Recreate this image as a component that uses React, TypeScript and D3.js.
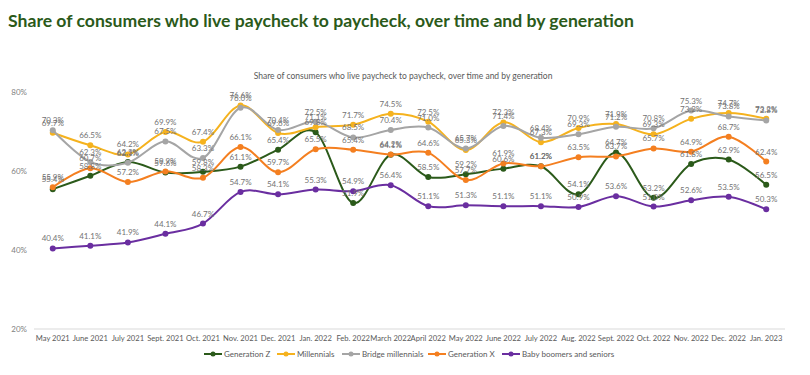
import React from "react";
import * as d3 from "d3";

const categories = [
  "May 2021", "June 2021", "July 2021", "Sept. 2021", "Oct. 2021", "Nov. 2021", "Dec. 2021",
  "Jan. 2022", "Feb. 2022", "March 2022", "April 2022", "May 2022", "June 2022", "July 2022",
  "Aug. 2022", "Sept. 2022", "Oct. 2022", "Nov. 2022", "Dec. 2022", "Jan. 2023",
];

const genZ = [55.4, 58.8, 62.3, 59.6, 59.8, 61.1, 65.4, 69.8, 51.9, 64.1, 58.5, 59.2, 60.6, 61.2, 54.1, 64.7, 53.2, 61.8, 62.9, 56.5];
const millennials = [69.7, 66.5, 64.2, 69.9, 67.4, 76.6, 69.6, 71.1, 71.7, 74.5, 72.5, 65.3, 72.3, 67.3, 70.9, 71.9, 69.3, 73.2, 74.7, 73.2];
const bridgeMillennials = [70.3, 62.3, 62.1, 67.5, 63.3, 76.0, 70.4, 72.5, 68.5, 70.4, 71.0, 65.7, 71.4, 68.4, 69.3, 71.2, 70.8, 75.3, 73.8, 72.8];
const genX = [55.9, 60.7, 57.2, 59.9, 58.3, 66.1, 59.7, 65.5, 65.4, 64.2, 64.6, 57.7, 61.9, 61.2, 63.5, 63.7, 65.7, 64.9, 68.7, 62.4];
const boomers = [40.4, 41.1, 41.9, 44.1, 46.7, 54.7, 54.1, 55.3, 54.9, 56.4, 51.1, 51.3, 51.1, 51.1, 50.9, 53.6, 51.0, 52.6, 53.5, 50.3];

const yTicks = [20, 40, 60, 80];

const seriesNames = ["Generation Z", "Millennials", "Bridge millennials", "Generation X", "Baby boomers and seniors"];
const seriesValues = [genZ, millennials, bridgeMillennials, genX, boomers];
const seriesColors = ["#2b5a1a", "#f5b21e", "#a5a5a5", "#f47f20", "#6a2ea0"];

const title = "Share of consumers who live paycheck to paycheck, over time and by generation";
const subtitle = "Share of consumers who live paycheck to paycheck, over time and by generation";

const FONT = "Lato, 'Open Sans', sans-serif";

export default function App() {
  const width = 810;
  const height = 375;
  const x = d3.scalePoint<string>().domain(categories).range([34, 785]).padding(0.5);
  const y = d3.scaleLinear().domain([20, 80]).range([329, 92]);
  const line = d3
    .line<number>()
    .x((_, i) => x(categories[i]) as number)
    .y((d) => y(d))
    .curve(d3.curveCardinal.tension(0));

  const legendX = [204, 277, 342, 428, 502];

  return (
    <svg
      width={width}
      height={height}
      style={{ position: "absolute", left: 0, top: 0, background: "#fff" }}
      fontFamily={FONT}
    >
      <rect x={0} y={0} width={width} height={height} fill="#fff" />
      <text x={8} y={27} fontSize={17.6} fontWeight={700} fill="#2b5a1a">
        {title}
      </text>
      <text x={403} y={79} fontSize={8.5} fill="#595959" textAnchor="middle">
        {subtitle}
      </text>

      {yTicks.map((t) => (
        <text key={t} x={27} y={y(t) + 3} fontSize={8} fill="#7f7f7f" textAnchor="end">
          {t}%
        </text>
      ))}
      <line x1={34} x2={785} y1={329} y2={329} stroke="#d9d9d9" strokeWidth={1} />
      {categories.map((c) => (
        <text key={c} x={x(c)} y={341} fontSize={7.6} fill="#595959" textAnchor="middle">
          {c}
        </text>
      ))}

      {seriesValues.map((vals, si) => (
        <g key={si}>
          <path d={line(vals) || ""} fill="none" stroke={seriesColors[si]} strokeWidth={2} />
          {vals.map((v, i) => (
            <circle key={i} cx={x(categories[i])} cy={y(v)} r={3} fill={seriesColors[si]} />
          ))}
        </g>
      ))}
      {seriesValues.map((vals, si) => (
        <g key={"l" + si}>
          {vals.map((v, i) => (
            <text
              key={i}
              x={x(categories[i])}
              y={y(v) - 7}
              fontSize={8}
              fill="#737373"
              textAnchor="middle"
            >
              {v.toFixed(1)}%
            </text>
          ))}
        </g>
      ))}

      {seriesNames.map((n, i) => (
        <g key={n}>
          <line x1={legendX[i]} x2={legendX[i] + 18} y1={354} y2={354} stroke={seriesColors[i]} strokeWidth={2} />
          <circle cx={legendX[i] + 9} cy={354} r={2.5} fill={seriesColors[i]} />
          <text x={legendX[i] + 20} y={357} fontSize={8} fill="#595959">
            {n}
          </text>
        </g>
      ))}
    </svg>
  );
}
